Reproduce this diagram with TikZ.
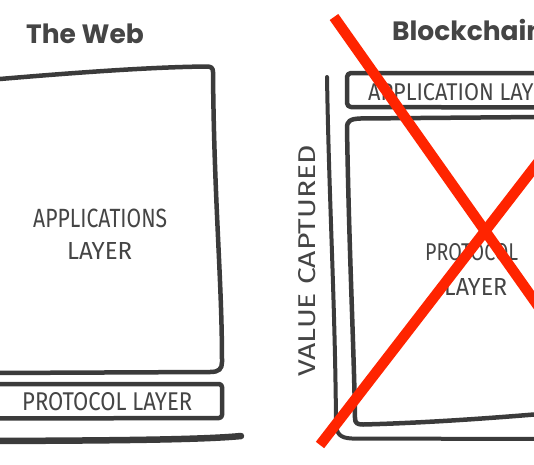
\documentclass[tikz,border=0pt]{standalone}
\usepackage{fontspec}
\setmainfont{Fira Sans}
\newfontfamily\titlefont{Poppins}
\definecolor{inkc}{HTML}{3B3B3B}
\definecolor{textc}{HTML}{454545}
\definecolor{redc}{HTML}{FF2400}
\tikzset{
  box/.style={draw=inkc, line width=4.5pt, line join=round, line cap=round},
  axisline/.style={draw=inkc, line width=4pt, line join=round, line cap=round},
  baseline/.style={draw=inkc, line width=6.5pt, line cap=round},
  redx/.style={draw=redc, line width=10.5pt},
  hand/.style={inner sep=0pt, anchor=base west, text=textc},
  title/.style={inner sep=0pt, anchor=base west, text=textc, font=\titlefont\bfseries\fontsize{26.5}{31}\selectfont}
}
\begin{document}
\begin{tikzpicture}[x=1pt,y=-1pt]
\useasboundingbox (0,0) rectangle (534,464);
\clip (0,0) rectangle (534,464);
\fill[white] (0,0) rectangle (534,464);
% titles
\node[title] (web) at (26,43) {The Web};
\node[title] (bc) at (392,40) {Blockchain};
% left diagram
\draw[box] (-6,79.5) .. controls (70,73) and (150,67) .. (207,66.5)
  .. controls (211,66.5) and (213,68) .. (213,72)
  .. controls (214,200) and (222,280) .. (222,362)
  .. controls (222,369) and (219,372) .. (210,372) -- (-6,373);
\draw[box, rounded corners=3pt] (-6,384) -- (222,384) -- (222,418) -- (-6,418.5);
\draw[baseline] (-6,441) .. controls (100,440.5) and (200,440) .. (241,436);
\node[hand] (apps) at (33,227) {\resizebox{134pt}{18.5pt}{APPLICATIONS}};
\node[hand] (appl) at (67,259) {\resizebox{65pt}{17pt}{LAYER}};
\node[hand] (protl) at (22,410) {\resizebox{170pt}{18pt}{PROTOCOL LAYER}};
% right diagram
\draw[axisline] (327,77) .. controls (329,200) and (335,300) .. (336,422)
  .. controls (336,434) and (340,438) .. (352,438.5) -- (540,439);
\draw[box, rounded corners=4pt] (540,73) -- (347,73) -- (347,107) -- (540,107.5);
\draw[box] (540,117) -- (360,118.5) .. controls (350,119) and (347,121) .. (347,128)
  .. controls (349,250) and (354,350) .. (355,418)
  .. controls (355,423) and (357,424.5) .. (363,424.5)
  .. controls (420,423) and (480,419) .. (540,414);
\node[hand] (appr) at (368,100) {\resizebox{190pt}{17pt}{APPLICATION LAYER}};
\node[hand] (protr) at (425,260) {\resizebox{93pt}{17pt}{PROTOCOL}};
\node[hand] (layr) at (444,295) {\resizebox{63pt}{17pt}{LAYER}};
\node[hand, rotate=90] (val) at (315,377) {\resizebox{232pt}{17pt}{VALUE CAPTURED}};
% red cross
\coordinate (xa1) at (334,17);
\coordinate (xa2) at (560,337);
\coordinate (xb1) at (320,445);
\coordinate (xb2) at (560,134);
\draw[redx] (xa1) -- (xa2);
\draw[redx] (xb1) -- (xb2);
\end{tikzpicture}
\end{document}
